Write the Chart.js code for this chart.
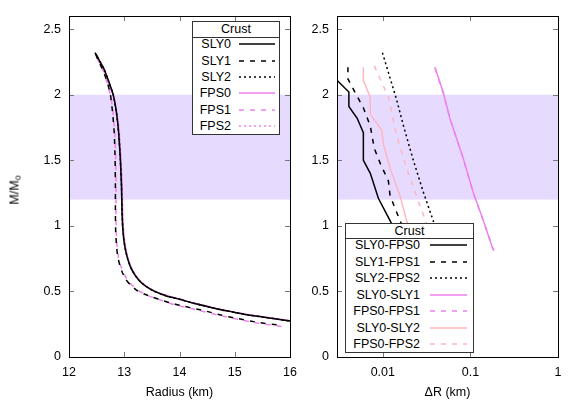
<!DOCTYPE html>
<html><head><meta charset="utf-8">
<script src="https://cdn.jsdelivr.net/npm/chart.js@4/dist/chart.umd.min.js"></script>
<style>
body{margin:0;background:#fff;width:581px;height:407px;overflow:hidden;position:relative;font-family:"Liberation Sans",Arial,sans-serif;color:#000;}
canvas{position:absolute;top:0;}
#c1{left:0;}
#c2{left:300px;}
.legend{position:absolute;background:#fff;border:1px solid #333;box-sizing:border-box;font-size:12.5px;}
.legend .hdr{position:absolute;left:0;right:0;top:0;border-bottom:1px solid #333;text-align:center;line-height:14px;}
.legend .row{position:absolute;left:0;right:0;height:16px;}
.legend .row span{position:absolute;text-align:right;line-height:16px;top:0;}
.legend .row svg{position:absolute;top:0;}
#ytitle{position:absolute;left:15px;top:190px;transform:translate(-50%,-50%) rotate(-90deg);font-size:12.5px;white-space:nowrap;}
#ytitle sub{font-size:9px;vertical-align:-2px;}
</style>
</head><body>
<canvas id="c1" width="300" height="407"></canvas>
<canvas id="c2" width="281" height="407"></canvas>
<div id="ytitle">M/M<sub>o</sub></div>
<script>
// ---------- data ----------
const bandRange = [1.2, 2.0];
const xTicksLeft = [12, 13, 14, 15, 16];
const yTicks = [0, 0.5, 1, 1.5, 2, 2.5];
const xTicksRight = [0.01, 0.1, 1];

// Left panel: [radius km, M/Msun]
const sly0 = [[12.49,2.31],[12.55,2.26],[12.63,2.20],[12.72,2.10],[12.80,2.00],[12.86,1.86],[12.90,1.70],[12.93,1.50],[12.95,1.30],[12.96,1.10],[12.97,1.00],[12.99,0.90],[13.02,0.82],[13.06,0.75],[13.12,0.68],[13.20,0.62],[13.30,0.57],[13.42,0.53],[13.55,0.50],[13.70,0.475],[13.85,0.455],[14.0,0.44],[14.25,0.41],[14.5,0.385],[14.75,0.36],[15.0,0.34],[15.25,0.32],[15.5,0.305],[15.75,0.29],[16.0,0.275]];
const sly1 = [[12.48,2.31],[12.53,2.26],[12.60,2.20],[12.69,2.10],[12.75,2.00],[12.79,1.86],[12.82,1.70],[12.835,1.50],[12.84,1.30],[12.84,1.10],[12.845,0.95],[12.86,0.85],[12.88,0.77],[12.92,0.70],[12.97,0.64],[13.03,0.59],[13.11,0.55],[13.22,0.51],[13.36,0.48],[13.52,0.455],[13.70,0.43],[13.85,0.41],[14.1,0.385],[14.43,0.355],[14.75,0.32],[15.03,0.295],[15.4,0.265],[15.85,0.24]];
const sly2 = [[12.47,2.32],[12.55,2.26],[12.63,2.20],[12.72,2.10],[12.80,2.00],[12.86,1.86],[12.90,1.70],[12.93,1.50],[12.95,1.30],[12.96,1.10],[12.97,1.00],[12.99,0.90],[13.02,0.82],[13.06,0.75],[13.12,0.68],[13.20,0.62],[13.30,0.57],[13.42,0.53],[13.55,0.50],[13.70,0.475],[13.85,0.455],[14.0,0.44],[14.25,0.41],[14.5,0.385],[14.75,0.36],[15.0,0.34],[15.25,0.32],[15.5,0.305],[15.75,0.29],[16.0,0.275]];
const fps0 = [[12.51,2.28],[12.57,2.24],[12.645,2.18],[12.73,2.08],[12.81,1.98],[12.87,1.85],[12.91,1.70],[12.94,1.50],[12.96,1.30],[12.97,1.10],[12.98,1.00],[13.00,0.90],[13.03,0.82],[13.07,0.75],[13.13,0.68],[13.21,0.62],[13.31,0.57],[13.43,0.53],[13.56,0.50],[13.71,0.477],[13.86,0.457],[14.0,0.442],[14.25,0.412],[14.5,0.387],[14.75,0.362],[15.0,0.342],[15.25,0.322],[15.5,0.307],[15.75,0.292],[16.0,0.277]];
const fps1 = [[12.51,2.28],[12.555,2.24],[12.62,2.18],[12.70,2.08],[12.76,1.98],[12.80,1.85],[12.83,1.70],[12.845,1.50],[12.85,1.30],[12.85,1.10],[12.855,0.95],[12.87,0.85],[12.895,0.76],[12.94,0.69],[13.00,0.63],[13.07,0.58],[13.16,0.54],[13.28,0.50],[13.42,0.47],[13.58,0.445],[13.75,0.42],[13.90,0.40],[14.15,0.375],[14.45,0.345],[14.75,0.315],[15.03,0.29],[15.4,0.26],[15.85,0.232]];
const fps2 = [[12.51,2.28],[12.57,2.24],[12.645,2.18],[12.73,2.08],[12.81,1.98],[12.87,1.85],[12.91,1.70],[12.94,1.50],[12.96,1.30],[12.97,1.10],[12.98,1.00],[13.00,0.90],[13.03,0.82],[13.07,0.75],[13.13,0.68],[13.21,0.62],[13.31,0.57],[13.43,0.53],[13.56,0.50],[13.71,0.477],[13.86,0.457],[14.0,0.442],[14.25,0.412],[14.5,0.387],[14.75,0.362],[15.0,0.342],[15.25,0.322],[15.5,0.307],[15.75,0.292],[16.0,0.277]];

// Right panel: [delta R km, M/Msun]
const sly0fps0 = [[0.0030,2.21],[0.0030,2.11],[0.0041,2.02],[0.0041,1.91],[0.0051,1.82],[0.0060,1.71],[0.0060,1.50],[0.0072,1.40],[0.0089,1.21],[0.0121,1.04],[0.014,0.95]];
const sly1fps1 = [[0.0040,2.21],[0.0040,2.12],[0.0048,2.02],[0.0060,1.90],[0.0072,1.76],[0.0080,1.59],[0.0093,1.48],[0.0116,1.34],[0.0121,1.23],[0.0157,1.04],[0.018,0.95]];
const sly2fps2 = [[0.0099,2.32],[0.0144,1.96],[0.0171,1.77],[0.0223,1.50],[0.0289,1.26],[0.0376,1.04],[0.042,0.95]];
const sly0sly1 = [[0.0393,2.21],[0.0489,2.02],[0.0582,1.82],[0.0824,1.52],[0.107,1.26],[0.139,1.05],[0.181,0.82]];
const fps0fps1 = [[0.0395,2.20],[0.049,2.01],[0.059,1.81],[0.083,1.51],[0.108,1.25],[0.140,1.04],[0.185,0.81]];
const sly0sly2 = [[0.0060,2.21],[0.0060,2.11],[0.0072,1.98],[0.0072,1.85],[0.0097,1.73],[0.0102,1.62],[0.0121,1.44],[0.0157,1.23],[0.0187,1.04],[0.021,0.95]];
const fps0fps2 = [[0.0080,2.22],[0.0116,1.98],[0.0144,1.69],[0.0187,1.44],[0.0233,1.26],[0.0303,1.05],[0.034,0.95]];

const leftLabels = ['SLY0','SLY1','SLY2','FPS0','FPS1','FPS2'];
const rightLabels = ['SLY0-FPS0','SLY1-FPS1','SLY2-FPS2','SLY0-SLY1','FPS0-FPS1','SLY0-SLY2','FPS0-FPS2'];
const legendTitle = 'Crust';

// ---------- styles ----------
const BLACK = '#000000', VIOLET = '#ee82ee', LPINK = '#ffb6c1';
const SOLID = [], DASH = [5,6], DOT = [2,3];
const bandColor = 'rgb(231,218,255)';
const FONT = {family:'"Liberation Sans", Arial, sans-serif', size:12.5};

const leftStyles = [[BLACK,SOLID],[BLACK,DASH],[BLACK,DOT],[VIOLET,SOLID],[VIOLET,DASH],[VIOLET,DOT]];
const rightStyles = [[BLACK,SOLID],[BLACK,DASH],[BLACK,DOT],[VIOLET,SOLID],[VIOLET,DASH],[LPINK,SOLID],[LPINK,DASH]];

const toXY = arr => arr.map(p => ({x:p[0], y:p[1]}));
function mkDs(data, style, tension){
  return {data: toXY(data), borderColor: style[0], borderDash: style[1], borderWidth: 1.5,
          pointRadius: 0, showLine: true, tension: tension, fill: false};
}

const bandPlugin = {id:'band', beforeDatasetsDraw(chart){
  const {ctx, chartArea:a, scales:{y}} = chart;
  const t = y.getPixelForValue(bandRange[1]), b = y.getPixelForValue(bandRange[0]);
  ctx.save(); ctx.fillStyle = bandColor; ctx.fillRect(a.left, t, a.right - a.left, b - t); ctx.restore();
}};
const framePlugin = {id:'frame', afterDatasetsDraw(chart){
  const {ctx, chartArea:a, scales:{x, y}} = chart;
  ctx.save();
  ctx.strokeStyle = '#777'; ctx.lineWidth = 1;
  const L = 5;
  x.ticks.forEach(t => { const px = Math.round(x.getPixelForValue(t.value)) + 0.5;
    ctx.beginPath(); ctx.moveTo(px, a.bottom); ctx.lineTo(px, a.bottom - L); ctx.moveTo(px, a.top); ctx.lineTo(px, a.top + L); ctx.stroke(); });
  y.ticks.forEach(t => { const py = Math.round(y.getPixelForValue(t.value)) + 0.5;
    ctx.beginPath(); ctx.moveTo(a.left, py); ctx.lineTo(a.left + L, py); ctx.moveTo(a.right, py); ctx.lineTo(a.right - L, py); ctx.stroke(); });
  ctx.strokeStyle = '#000'; ctx.lineWidth = 1;
  ctx.strokeRect(Math.round(a.left) + 0.5, Math.round(a.top) + 0.5, Math.round(a.right - a.left), Math.round(a.bottom - a.top));
  ctx.restore();
}};

function yScale(width){
  return {type:'linear', min:0, max:2.6,
    afterBuildTicks: s => { s.ticks = yTicks.map(v => ({value:v})); },
    afterFit: s => { s.width = width; s.paddingTop = 0; s.paddingBottom = 0; },
    grid:{display:false, drawTicks:false}, border:{display:false},
    ticks:{color:'#000', font:FONT, padding:8, callback: v => String(v)}};
}
function fitX(s){ s.height = 50; s.paddingLeft = 0; s.paddingRight = 0; }

new Chart(document.getElementById('c1'), {
  type:'scatter',
  data:{datasets:[sly0,sly1,sly2,fps0,fps1,fps2].map((d,i) => mkDs(d, leftStyles[i], 0.15))},
  options:{responsive:false, animation:false, devicePixelRatio:1,
    layout:{padding:{left:0, right:10, top:16, bottom:0}},
    plugins:{legend:{display:false}, tooltip:{enabled:false}},
    scales:{
      x:{type:'linear', min:12, max:16,
        afterBuildTicks: s => { s.ticks = xTicksLeft.map(v => ({value:v})); },
        afterFit: fitX,
        grid:{display:false, drawTicks:false}, border:{display:false},
        ticks:{color:'#000', font:FONT, padding:8, maxRotation:0},
        title:{display:true, text:'Radius (km)', color:'#000', font:FONT, padding:{top:0, bottom:7}}},
      y: yScale(69)
    }},
  plugins:[bandPlugin, framePlugin]
});

new Chart(document.getElementById('c2'), {
  type:'scatter',
  data:{datasets:[sly0fps0,sly1fps1,sly2fps2,sly0sly1,fps0fps1,sly0sly2,fps0fps2].map((d,i) => mkDs(d, rightStyles[i], 0))},
  options:{responsive:false, animation:false, devicePixelRatio:1,
    layout:{padding:{left:0, right:23, top:16, bottom:0}},
    plugins:{legend:{display:false}, tooltip:{enabled:false}},
    scales:{
      x:{type:'logarithmic', min:0.003, max:1,
        afterBuildTicks: s => { s.ticks = xTicksRight.map(v => ({value:v})); },
        afterFit: fitX,
        grid:{display:false, drawTicks:false}, border:{display:false},
        ticks:{color:'#000', font:FONT, padding:8, maxRotation:0, callback: v => String(v)},
        title:{display:true, text:'ΔR (km)', color:'#000', font:FONT, padding:{top:0, bottom:7}}},
      y: yScale(37)
    }},
  plugins:[bandPlugin, framePlugin]
});

// ---------- legends ----------
function buildLegend(box, labels, styles, textRight, lineX0, lineX1, hdrH, rowH){
  const d = document.createElement('div');
  d.className = 'legend';
  Object.assign(d.style, {left:box[0]+'px', top:box[1]+'px', width:box[2]+'px', height:box[3]+'px'});
  const h = document.createElement('div'); h.className = 'hdr'; h.style.height = hdrH + 'px'; h.textContent = legendTitle; d.appendChild(h);
  labels.forEach((lab, i) => {
    const r = document.createElement('div'); r.className = 'row';
    r.style.top = (hdrH + i*rowH + rowH/2 - 8 - 1) + 'px';
    const sp = document.createElement('span'); sp.textContent = lab;
    sp.style.right = (box[2] - textRight) + 'px'; r.appendChild(sp);
    const st = styles[i];
    const svg = `<svg width="${lineX1-lineX0}" height="16" style="left:${lineX0}px"><line x1="0" y1="8" x2="${lineX1-lineX0}" y2="8" stroke="${st[0]}" stroke-width="1.5" ${st[1].length ? 'stroke-dasharray="'+st[1].join(',')+'"' : ''}/></svg>`;
    r.insertAdjacentHTML('beforeend', svg);
    d.appendChild(r);
  });
  document.body.appendChild(d);
}
buildLegend([192,21,88,114], leftLabels, leftStyles, 40, 46, 82, 15, 16.4);
buildLegend([345,223,129,130], rightLabels, rightStyles, 76, 84, 121, 14, 16.5);
</script>
</body></html>
